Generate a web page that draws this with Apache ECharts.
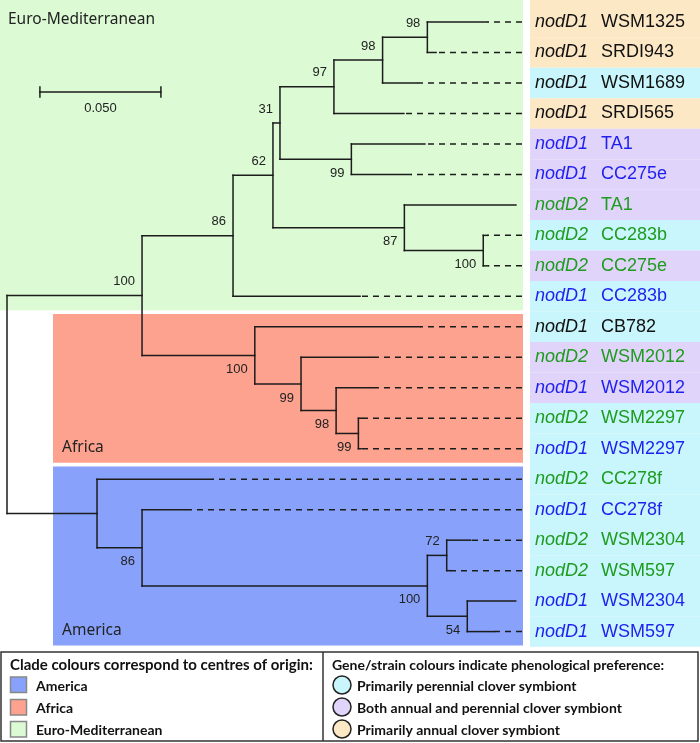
<!DOCTYPE html>
<html><head><meta charset="utf-8">
<script src="https://cdn.jsdelivr.net/npm/echarts@6.0.0/dist/echarts.min.js"></script>
<style>html,body{margin:0;padding:0;background:#fff}#c{width:700px;height:743px}</style>
</head><body><div id="c"></div>
<script>
// ---- leaves (top to bottom) ----
const leafGenes = ['nodD1','nodD1','nodD1','nodD1','nodD1','nodD1','nodD2','nodD2','nodD2','nodD1','nodD1','nodD2','nodD1','nodD2','nodD1','nodD2','nodD1','nodD2','nodD2','nodD1','nodD1'];
const leafStrains = ['WSM1325','SRDI943','WSM1689','SRDI565','TA1','CC275e','TA1','CC283b','CC275e','CC283b','CB782','WSM2012','WSM2012','WSM2297','WSM2297','CC278f','CC278f','WSM2304','WSM597','WSM2304','WSM597'];
const leafPreference = ['annual','annual','perennial','annual','both','both','both','perennial','both','perennial','perennial','both','both','perennial','perennial','perennial','perennial','perennial','perennial','perennial','perennial'];
const leafTextGroup = ['k','k','k','k','b','b','g','g','g','b','k','g','b','g','b','g','b','g','g','b','b'];
const leafParents = ['N98b','N98b','N98a','N97','N99a','N99a','N87','N100a','N100a','E86','Af100','Af99','Af98','Af99b','Af99b','Am','Am86','Am72','Am72','Am54','Am54'];
const leafDepths = [0.1986,0.1773,0.1693,0.1640,0.1727,0.1669,0.2103,0.1985,0.1990,0.1459,0.1707,0.1511,0.1511,0.1471,0.1463,0.0848,0.0738,0.1916,0.1831,0.2102,0.2014];

// ---- internal nodes ----
const nodeIds     = ['root','A','E86','N62','N31','N97','N98a','N98b','N99a','N87','N100a','Af100','Af99','Af98','Af99b','Am','Am86','Am100','Am72','Am54'];
const nodeParents = [null,'root','A','E86','N62','N31','N97','N98a','N31','N62','N87','A','Af100','Af99','Af98','root','Am','Am86','Am100','Am100'];
const nodeDepths  = [0,0.0558,0.0934,0.1099,0.1128,0.1351,0.1552,0.1737,0.1423,0.1642,0.1968,0.1024,0.1215,0.1360,0.1452,0.0372,0.0558,0.1737,0.1817,0.1902];
const nodeSupport = [null,100,86,62,31,97,98,98,99,87,100,100,99,98,99,null,86,100,72,54];

// ---- clades (leaf index spans) ----
const cladeNames = ['Euro-Mediterranean','Africa','America'];
const cladeFirstLeaf = [0,10,15];
const cladeLastLeaf = [9,14,20];

const alignDepth = 0.2128;
const scaleBarLength = 0.05;
const scaleBarLabel = '0.050';

const prefColour = {perennial:'#c8f6fc', both:'#e0d4fa', annual:'#fde8c6'};
const textColour = {k:'#111111', b:'#1f1ff0', g:'#1f9b1f'};
const cladeColour = ['#dcfad4','#fca28e','#88a2fc'];

// ---- build tree layout ----
const depthOf = {}, parentOf = {}, supportOf = {};
nodeIds.forEach((id,i)=>{depthOf[id]=nodeDepths[i]; parentOf[id]=nodeParents[i]; supportOf[id]=nodeSupport[i];});
const kids = {};
nodeIds.forEach(id=>kids[id]=[]);
nodeIds.forEach((id,i)=>{ if(nodeParents[i]) kids[nodeParents[i]].push(id); });
leafParents.forEach((p,i)=>{ const id='L'+i; depthOf[id]=leafDepths[i]; parentOf[id]=p; kids[p].push(id); });
const yOf = {}, spanOf = {};
function layout(id){
  if (!(id in kids)) { yOf[id]=+id.slice(1); return yOf[id]; }
  const ys = kids[id].map(layout);
  const lo = Math.min(...ys), hi = Math.max(...ys);
  spanOf[id]=[lo,hi]; yOf[id]=(lo+hi)/2; return yOf[id];
}
layout('root');
const branchItems = [];
nodeIds.forEach(id=>branchItems.push({id, leaf:false}));
leafParents.forEach((p,i)=>branchItems.push({id:'L'+i, leaf:true}));

const LINE = '#1c1c1c';
function ln(x1,y1,x2,y2,dash){
  return {type:'line', shape:{x1,y1,x2,y2}, style:{stroke:LINE, lineWidth:1.5, lineCap: dash?'butt':'square', lineDash: dash?[6,5]:null}};
}

const chart = echarts.init(document.getElementById('c'), null, {renderer:'canvas'});
const FONT = '"Liberation Sans", Arial, sans-serif';
const LFONT = 'Lato, "Noto Sans", sans-serif';
chart.setOption({
  animation:false,
  grid:{left:7, top:22, width:2420*0.28, height:30.48*20},
  xAxis:{type:'value', min:0, max:0.28, show:false},
  yAxis:{type:'value', min:0, max:20, inverse:true, show:false},
  series:[
    { // label row backgrounds
      type:'custom', z:1, silent:true,
      data: leafStrains.map((s,i)=>[alignDepth,i]),
      renderItem(params, api){
        const i = params.dataIndex;
        const p = api.coord([alignDepth, i]);
        const h = api.size([0,1])[1];
        let top = p[1]-h/2; if (i===0) top = 0;
        return {type:'rect', shape:{x:530, y:top, width:170, height:p[1]+h/2-top}, style:{fill:prefColour[leafPreference[i]]}};
      }
    },
    { // clade backgrounds
      type:'custom', z:2, silent:true,
      data: cladeNames.map((n,i)=>[0,cladeFirstLeaf[i]]),
      renderItem(params, api){
        const i = params.dataIndex;
        const a = api.coord([0, cladeFirstLeaf[i]]);
        const b = api.coord([alignDepth, cladeLastLeaf[i]]);
        const top = i===0 ? 0 : a[1]-12.8;
        const left = i===0 ? 0 : 53;
        const bottom = b[1]+14;
        const lbl = i===0
          ? {type:'text', style:{text:cladeNames[i], x:8, y:20, font:'15.5px "Noto Sans"', fill:'#222', verticalAlign:'middle'}}
          : {type:'text', style:{text:cladeNames[i], x:62, y:bottom-15.5, font:'15.5px "Noto Sans"', fill:'#222', verticalAlign:'middle'}};
        return {type:'group', children:[
          {type:'rect', shape:{x:left, y:top, width:523-left, height:bottom-top}, style:{fill:cladeColour[i]}},
          lbl
        ]};
      }
    },
    { // tree branches
      type:'custom', z:3, silent:true,
      data: branchItems.map(b=>[depthOf[b.id], yOf[b.id]]),
      renderItem(params, api){
        const b = branchItems[params.dataIndex];
        const id = b.id;
        const p = api.coord([depthOf[id], yOf[id]]);
        const ch = [];
        const par = parentOf[id];
        if (par) {
          const pp = api.coord([depthOf[par], yOf[id]]);
          ch.push(ln(pp[0], p[1], p[0], p[1]));
        }
        if (!b.leaf) {
          const a = api.coord([depthOf[id], spanOf[id][0]]);
          const c = api.coord([depthOf[id], spanOf[id][1]]);
          ch.push(ln(p[0], a[1], p[0], c[1]));
          const s = supportOf[id];
          if (s != null && par) {
            const upper = yOf[id] < yOf[par];
            ch.push({type:'text', style:{text:String(s), x:p[0]-7, y:p[1]+(upper?-14:14), align:'right', verticalAlign:'middle', font:'13px '+FONT, fill:'#222'}});
          }
        } else if (alignDepth - depthOf[id] > 0.004) {
          const e = api.coord([alignDepth, yOf[id]]);
          ch.push(ln(e[0], p[1], p[0], p[1], true));
        }
        if (b.leaf) {
          const i = +id.slice(1);
          const col = textColour[leafTextGroup[i]];
          ch.push({type:'text', style:{text:leafGenes[i], x:535, y:p[1], verticalAlign:'middle', font:'italic 18px '+FONT, fill:col}});
          ch.push({type:'text', style:{text:leafStrains[i], x:601, y:p[1], verticalAlign:'middle', font:'18px '+FONT, fill:col}});
        }
        return {type:'group', children:ch};
      }
    },
    { // scale bar
      type:'custom', z:3, silent:true,
      data:[[0.0136, 2.297]],
      renderItem(params, api){
        const a = api.coord([0.0136, 2.297]);
        const b = api.coord([0.0136+scaleBarLength, 2.297]);
        return {type:'group', children:[
          ln(a[0],a[1],b[0],b[1]),
          ln(a[0],a[1]-5,a[0],a[1]+5),
          ln(b[0],b[1]-5,b[0],b[1]+5),
          {type:'text', style:{text:scaleBarLabel, x:(a[0]+b[0])/2, y:a[1]+16, align:'center', verticalAlign:'middle', font:'13px '+FONT, fill:'#222'}}
        ]};
      }
    }
  ],
  graphic:[
    {type:'rect', shape:{x:1, y:652, width:697, height:89}, style:{fill:'#fff', stroke:'#333', lineWidth:1.5}},
    {type:'line', shape:{x1:323, y1:652, x2:323, y2:741}, style:{stroke:'#333', lineWidth:1.5}},
    {type:'text', style:{text:'Clade colours correspond to centres of origin:', x:10, y:665, verticalAlign:'middle', font:'bold 15px '+LFONT, fill:'#111'}},
    {type:'rect', shape:{x:10.5, y:677, width:16, height:15.5}, style:{fill:'#88a2fc', stroke:'#888', lineWidth:1.5}},
    {type:'rect', shape:{x:10.5, y:699.5, width:16, height:15.5}, style:{fill:'#fca28e', stroke:'#888', lineWidth:1.5}},
    {type:'rect', shape:{x:10.5, y:721.5, width:16, height:15.5}, style:{fill:'#dcfad4', stroke:'#888', lineWidth:1.5}},
    {type:'text', style:{text:'America', x:36, y:686, verticalAlign:'middle', font:'bold 14px '+LFONT, fill:'#111'}},
    {type:'text', style:{text:'Africa', x:36, y:708, verticalAlign:'middle', font:'bold 14px '+LFONT, fill:'#111'}},
    {type:'text', style:{text:'Euro-Mediterranean', x:36, y:730, verticalAlign:'middle', font:'bold 14px '+LFONT, fill:'#111'}},
    {type:'text', style:{text:'Gene/strain colours indicate phenological preference:', x:332, y:665, verticalAlign:'middle', font:'bold 14px '+LFONT, fill:'#111'}},
    {type:'circle', shape:{cx:342, cy:685, r:9}, style:{fill:'#c8f6fc', stroke:'#222', lineWidth:1.5}},
    {type:'circle', shape:{cx:342, cy:707, r:9}, style:{fill:'#e0d4fa', stroke:'#222', lineWidth:1.5}},
    {type:'circle', shape:{cx:342, cy:729, r:9}, style:{fill:'#fde8c6', stroke:'#222', lineWidth:1.5}},
    {type:'text', style:{text:'Primarily perennial clover symbiont', x:357, y:686, verticalAlign:'middle', font:'bold 14px '+LFONT, fill:'#111'}},
    {type:'text', style:{text:'Both annual and perennial clover symbiont', x:357, y:708, verticalAlign:'middle', font:'bold 14px '+LFONT, fill:'#111'}},
    {type:'text', style:{text:'Primarily annual clover symbiont', x:357, y:730, verticalAlign:'middle', font:'bold 14px '+LFONT, fill:'#111'}}
  ]
});
</script></body></html>
